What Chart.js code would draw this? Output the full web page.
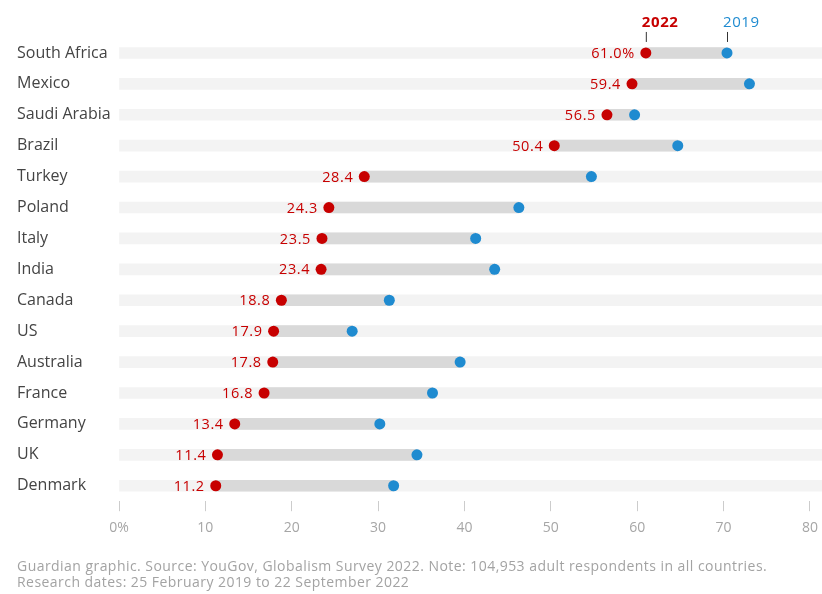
<!DOCTYPE html>
<html>
<head>
<meta charset="utf-8">
<script src="https://cdn.jsdelivr.net/npm/chart.js@4"></script>
<style>
    body { margin: 0; background: #fff; }
    #wrap { position: relative; width: 822px; height: 594px; }
    #footer {
        position: absolute; left: 17px; top: 558px;
        font-family: "Open Sans", sans-serif; font-size: 14px; line-height: 16px; color: #a3a3a3;
        letter-spacing: 0.45px; white-space: nowrap;
    }
</style>
</head>
<body>
<div id="wrap">
    <canvas id="chart" width="822" height="594"></canvas>
    <div id="footer">Guardian graphic. Source: YouGov, Globalism Survey 2022. Note: 104,953 adult respondents in all countries.<br>Research dates: 25 February 2019 to 22 September 2022</div>
</div>
<script>
const countries = ["South Africa", "Mexico", "Saudi Arabia", "Brazil", "Turkey", "Poland", "Italy", "India",
    "Canada", "US", "Australia", "France", "Germany", "UK", "Denmark"];
const values2022 = [61.0, 59.4, 56.5, 50.4, 28.4, 24.3, 23.5, 23.4, 18.8, 17.9, 17.8, 16.8, 13.4, 11.4, 11.2];
const values2019 = [70.4, 73.0, 59.7, 64.7, 54.7, 46.3, 41.3, 43.5, 31.3, 27.0, 39.5, 36.3, 30.2, 34.5, 31.8];
const xTicks = [0, 10, 20, 30, 40, 50, 60, 70, 80];

const RED = "#c70000";
const BLUE = "#1f8bd0";
const FONT = "'Open Sans', sans-serif";
const X_MAX = 81.4;

// value labels left of the 2022 dot + the year key above the first row
const labelPlugin = {
    id: "labels",
    afterDatasetsDraw(chart) {
        const ctx = chart.ctx;
        const x = chart.scales.x, y = chart.scales.y;
        ctx.save();
        ctx.font = "14.5px " + FONT;
        ctx.letterSpacing = "0.6px";
        ctx.fillStyle = RED;
        ctx.textAlign = "right";
        ctx.textBaseline = "middle";
        values2022.forEach((v, i) => {
            const txt = v.toFixed(1) + (i === 0 ? "%" : "");
            ctx.fillText(txt, x.getPixelForValue(v) - 11, y.getPixelForValue(i) + 1);
        });

        const top = y.getPixelForValue(0);
        const keys = [[values2022[0], "2022", RED, "bold "], [values2019[0], "2019", BLUE, ""]];
        keys.forEach(([v, txt, col, w]) => {
            const px = x.getPixelForValue(v);
            ctx.strokeStyle = "#333";
            ctx.lineWidth = 1;
            ctx.beginPath();
            ctx.moveTo(px + 0.5, top - 21);
            ctx.lineTo(px + 0.5, top - 11);
            ctx.stroke();
            ctx.font = w + "15px " + FONT;
            ctx.fillStyle = col;
            ctx.textAlign = "left";
            ctx.fillText(txt, px - 4, top - 30);
        });
        ctx.restore();
    }
};

new Chart(document.getElementById("chart"), {
    type: "bar",
    data: {
        labels: countries,
        datasets: [
            {
                label: "2022",
                type: "line",
                indexAxis: "y",
                data: values2022,
                showLine: false,
                pointRadius: 5.5,
                pointBackgroundColor: RED,
                pointBorderWidth: 0,
                order: 1
            },
            {
                label: "2019",
                type: "line",
                indexAxis: "y",
                data: values2019,
                showLine: false,
                pointRadius: 5.5,
                pointBackgroundColor: BLUE,
                pointBorderWidth: 0,
                order: 2
            },
            {
                label: "change",
                data: values2022.map((v, i) => [v, values2019[i]]),
                backgroundColor: "#d9d9d9",
                barThickness: 11,
                grouped: false,
                order: 3
            },
            {
                label: "band",
                data: countries.map(() => [0, X_MAX]),
                backgroundColor: "#f3f3f3",
                barThickness: 11,
                grouped: false,
                order: 4
            }
        ]
    },
    options: {
        indexAxis: "y",
        responsive: false,
        animation: false,
        layout: { autoPadding: false, padding: { left: 17, right: 0, top: 37.5, bottom: 50 } },
        plugins: {
            legend: { display: false },
            tooltip: { enabled: false }
        },
        scales: {
            x: {
                type: "linear",
                min: 0,
                max: X_MAX,
                afterBuildTicks: s => { s.ticks = xTicks.map(v => ({ value: v })); },
                afterFit: s => { s.paddingRight = 0; s.paddingLeft = 0; },
                grid: { drawOnChartArea: false, tickLength: 10, color: "#cccccc" },
                border: { display: false },
                ticks: {
                    padding: 8,
                    color: "#a6a6a6",
                    font: { family: FONT, size: 14 },
                    callback: v => v === 0 ? "0%" : v
                }
            },
            y: {
                type: "category",
                offset: true,
                afterFit: s => { s.width = 102; },
                grid: { display: false },
                border: { display: false },
                ticks: {
                    crossAlign: "far",
                    color: "#444",
                    font: { family: FONT, size: 16 }
                }
            }
        }
    },
    plugins: [labelPlugin]
});
</script>
</body>
</html>
